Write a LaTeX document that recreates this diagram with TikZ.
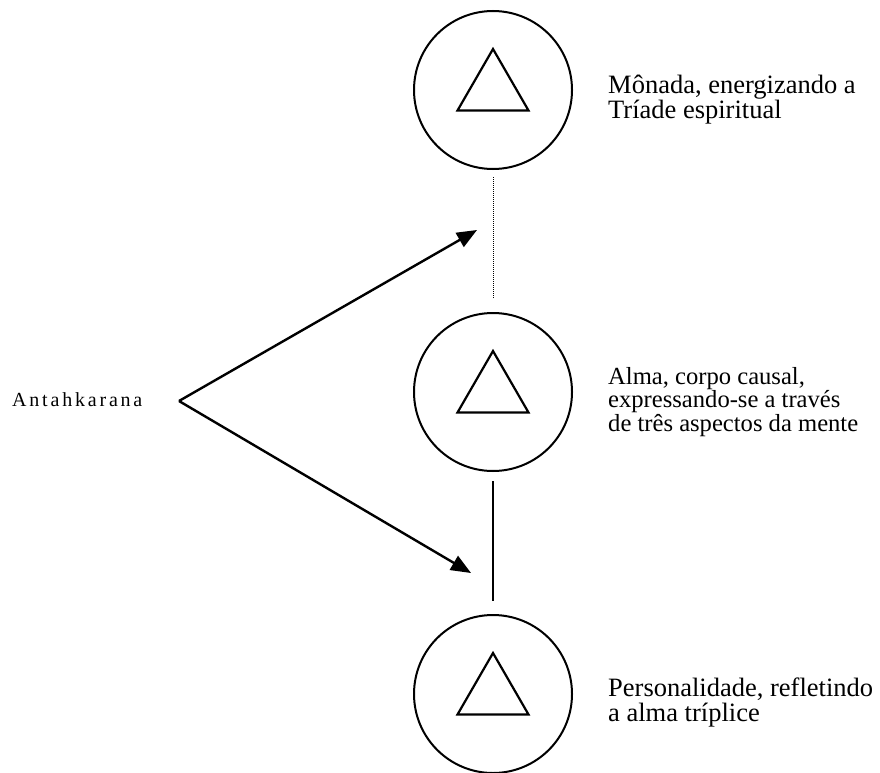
\documentclass[tikz,border=0pt]{standalone}
\usepackage{fontspec}
\setmainfont{Liberation Serif}
\newfontfamily\spacedfont[LetterSpace=14]{Liberation Serif}
\usetikzlibrary{positioning,shapes.geometric,arrows.meta}

\tikzset{
  plane/.style={draw, circle, line width=2pt, minimum size=158pt, inner sep=0pt, outer sep=0pt},
  tri/.style={draw, regular polygon, regular polygon sides=3, line width=2.2pt, minimum size=82pt, inner sep=0pt},
  label/.style={anchor=base west, align=left, inner sep=0pt},
  arrow/.style={-{Triangle[length=20pt,width=16pt]}, line width=2.4pt}
}

\begin{document}
\begin{tikzpicture}[x=1pt,y=-1pt]
\useasboundingbox (0,0) rectangle (880,773);

% the three planes
\node[plane] (monad) at (493,90) {};
\node[plane, below=144pt of monad] (soul) {};
\node[plane, below=144pt of soul] (person) {};

\node[tri] (monadtri) at (monad) {};
\node[tri] (soultri) at (soul) {};
\node[tri] (persontri) at (person) {};

% labels (base = last line)
\node[label, font={\fontsize{26.5}{24.5}\selectfont}] (monadtxt) at (608,118) {Mônada, energizando a\\Tríade espiritual};
\node[label, font={\fontsize{24.6}{22}\selectfont}] (soultxt) at (608,431) {Alma, corpo causal,\\expressando-se a través\\de três aspectos da mente};
\node[label, font={\fontsize{26.5}{24.5}\selectfont}] (persontxt) at (608,721) {Personalidade, refletindo\\a alma tríplice};

\node[anchor=base west, inner sep=0pt, font={\fontsize{20}{22}\spacedfont}] (antah) at (12,406) {Antahkarana};

% links
\draw[densely dotted, line width=1pt, shorten <=8pt, shorten >=14pt] (monad) -- (soul);
\draw[line width=2pt, shorten <=10pt, shorten >=14pt] (soul) -- (person);

\coordinate (apex) at (179,401);
\coordinate (uptip) at (477,230);
\coordinate (downtip) at (471,573);
\draw[arrow] (apex) -- (uptip);
\draw[arrow] (apex) -- (downtip);
\end{tikzpicture}
\end{document}
